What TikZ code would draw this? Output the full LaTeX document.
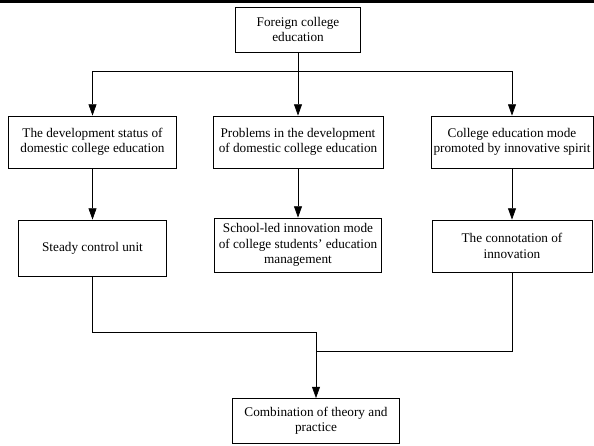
\documentclass[tikz,border=0pt]{standalone}
\usepackage{fontspec}
\setmainfont{Liberation Serif}
\usetikzlibrary{arrows.meta}

\tikzset{
  box/.style={draw, line width=0.7pt, align=center, inner sep=0pt,
    font=\fontsize{11.3}{13}\selectfont},
  arr/.style={-{Triangle[length=0.34cm,width=0.24cm]}, line width=0.6pt},
  link/.style={line width=0.6pt}
}

\begin{document}
\begin{tikzpicture}[x=0.03cm, y=-0.03cm]
  \useasboundingbox (0,0) rectangle (594,445);

  % Rule across the top of the page
  \draw[line width=2.5pt] (0,1.5) -- (594,1.5);

  % Boxes, row by row
  \node[box, minimum width=3.75cm, minimum height=1.35cm] (top) at (298,29.5)
    {Foreign college\\education};

  \node[box, minimum width=5.04cm, minimum height=1.56cm] (status) at (92.5,142)
    {The development status of\\domestic college education};
  \node[box, minimum width=5.1cm, minimum height=1.56cm] (problems) at (298,142)
    {Problems in the development\\of domestic college education};
  \node[box, minimum width=4.86cm, minimum height=1.56cm] (mode) at (512,142)
    {College education mode\\promoted by innovative spirit};

  \node[box, minimum width=4.44cm, minimum height=1.68cm] (steady) at (92.5,248)
    {Steady control unit};
  \node[box, minimum width=5.01cm, minimum height=1.62cm] (school) at (298,245)
    {School-led innovation mode\\of college students' education\\management};
  \node[box, minimum width=4.8cm, minimum height=1.56cm] (connot) at (512,246)
    {The connotation of\\innovation};

  \node[box, minimum width=5.01cm, minimum height=1.35cm] (combo) at (316,421)
    {Combination of theory and\\practice};

  % Junction points
  \coordinate (split) at (298,71);
  \coordinate (joinL) at (316,332);
  \coordinate (joinR) at (316,351);

  % From the top box to the first row
  \draw[arr] (top) -- (problems);
  \draw[arr] (split) -| (status);
  \draw[arr] (split) -| (mode);

  % First row to second row
  \draw[arr] (status) -- (steady);
  \draw[arr] (problems) -- (school);
  \draw[arr] (mode) -- (connot);

  % Merge into the bottom box
  \draw[arr] (steady) |- (joinL) -- (combo);
  \draw[link] (connot) |- (joinR);

\end{tikzpicture}
\end{document}
